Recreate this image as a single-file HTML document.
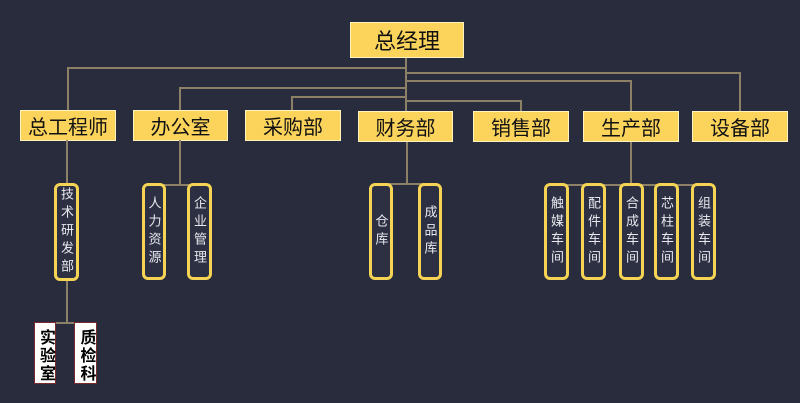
<!DOCTYPE html>
<html><head><meta charset="utf-8"><style>
body{margin:0;width:800px;height:403px;background:#292c3d;overflow:hidden;position:relative;font-family:"Liberation Sans","Noto Sans CJK SC",sans-serif}
.l{position:absolute;background:#8c8066}
.h{height:2px}.v{width:2px}
.b{position:absolute;background:#fcd45c;border:1px solid #fff3c0;box-sizing:border-box;display:flex;align-items:center;justify-content:center;color:#111;font-size:20px}
.s{position:absolute;border:3px solid #f5d354;border-radius:6px;box-sizing:border-box;color:#e8e8ee;font-size:13px;display:flex;align-items:center;justify-content:center;writing-mode:vertical-rl;letter-spacing:5px;background:#2d3042}
.w{position:absolute;background:#fff;border:1px solid #7a2a2a;box-sizing:border-box;color:#000;font-weight:bold;font-size:16px;writing-mode:vertical-rl;display:flex;align-items:center;justify-content:flex-start;padding-top:6px;line-height:1;letter-spacing:2px}
</style></head><body>
<div class="l v" style="left:405px;top:57px;height:44px"></div>
<div class="l h" style="left:67px;top:67px;width:340px"></div>
<div class="l h" style="left:179px;top:87px;width:228px"></div>
<div class="l h" style="left:291px;top:96px;width:116px"></div>
<div class="l h" style="left:405px;top:72px;width:336px"></div>
<div class="l h" style="left:405px;top:80px;width:227px"></div>
<div class="l h" style="left:405px;top:100px;width:117px"></div>
<div class="l v" style="left:67px;top:67px;height:44px"></div>
<div class="l v" style="left:179px;top:87px;height:24px"></div>
<div class="l v" style="left:291px;top:96px;height:15px"></div>
<div class="l v" style="left:739px;top:72px;height:39px"></div>
<div class="l v" style="left:630px;top:80px;height:31px"></div>
<div class="l v" style="left:520px;top:100px;height:11px"></div>
<div class="l v" style="left:405px;top:100px;height:11px"></div>
<div class="b" style="left:350px;top:22px;width:114px;height:36px;font-size:22px">总经理</div>
<div class="b" style="left:20px;top:110px;width:96px;height:31px">总工程师</div>
<div class="b" style="left:133px;top:110px;width:95px;height:31px">办公室</div>
<div class="b" style="left:245px;top:110px;width:96px;height:31px">采购部</div>
<div class="b" style="left:358px;top:111px;width:95px;height:31px">财务部</div>
<div class="b" style="left:473px;top:111px;width:96px;height:31px">销售部</div>
<div class="b" style="left:583px;top:111px;width:96px;height:31px">生产部</div>
<div class="b" style="left:692px;top:111px;width:96px;height:31px">设备部</div>
<div class="l v" style="left:66px;top:140px;height:184px"></div>
<div class="l h" style="left:45px;top:322px;width:42px"></div>
<div class="l v" style="left:179px;top:140px;height:45px"></div>
<div class="l h" style="left:154px;top:184px;width:46px"></div>
<div class="l v" style="left:406px;top:142px;height:43px"></div>
<div class="l h" style="left:380px;top:183px;width:50px"></div>
<div class="l v" style="left:630px;top:142px;height:43px"></div>
<div class="l h" style="left:556px;top:184px;width:148px"></div>
<div class="s" style="left:54px;top:183px;width:25px;height:98px">技术研发部</div>
<div class="s" style="left:142px;top:183px;width:24px;height:97px">人力资源</div>
<div class="s" style="left:187px;top:183px;width:25px;height:97px">企业管理</div>
<div class="s" style="left:369px;top:183px;width:24px;height:97px">仓库</div>
<div class="s" style="left:418px;top:183px;width:24px;height:97px">成品库</div>
<div class="s" style="left:544px;top:183px;width:25px;height:97px">触媒车间</div>
<div class="s" style="left:581px;top:183px;width:25px;height:97px">配件车间</div>
<div class="s" style="left:619px;top:183px;width:25px;height:97px">合成车间</div>
<div class="s" style="left:654px;top:183px;width:25px;height:97px">芯柱车间</div>
<div class="s" style="left:691px;top:183px;width:25px;height:97px">组装车间</div>
<div class="w" style="left:34px;top:322px;width:22px;height:62px">实验室</div>
<div class="w" style="left:74px;top:322px;width:23px;height:62px">质检科</div>
</body></html>
